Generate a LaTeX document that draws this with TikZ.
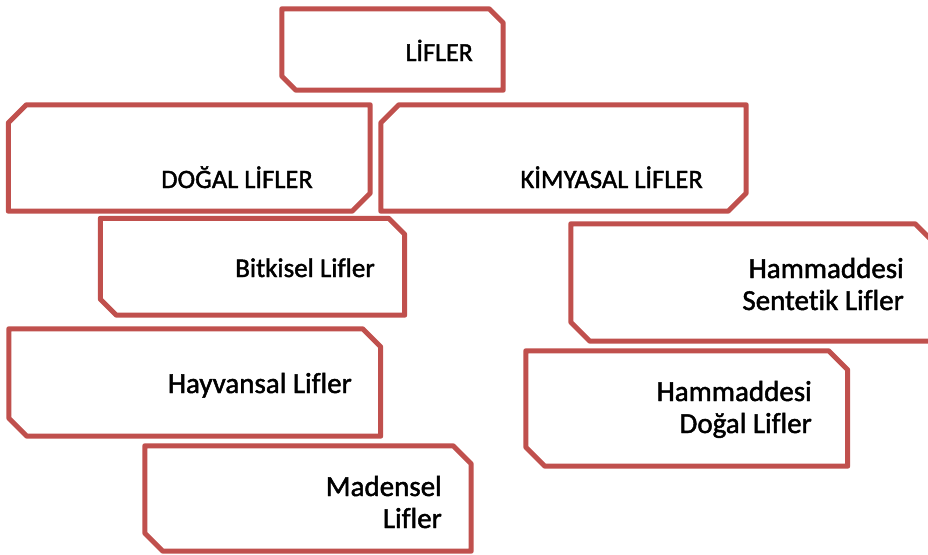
\documentclass[tikz,border=0pt]{standalone}
\usepackage{fontspec}
\setmainfont{Carlito}[Ligatures=NoCommon,FakeBold=1.6]
\definecolor{lifred}{HTML}{C0504D}
\tikzset{
  frame/.style = {draw=lifred, line width=5pt, fill=white, line join=round},
  lifbox/.style = {draw=none, inner sep=0pt},
  liftext/.style = {font=\fontsize{#1}{32}\selectfont, inner sep=0pt, align=right, anchor=base east},
  liftext/.default = 29
}
% cut corners: top right and bottom left
\newcommand{\snipTR}[2]{%
  \draw[frame] (#1.north west) -- ([xshift=-#2]#1.north east) -- ([yshift=-#2]#1.north east)
    -- (#1.south east) -- ([xshift=#2]#1.south west) -- ([yshift=#2]#1.south west) -- cycle;}
% cut corners: top left and bottom right
\newcommand{\snipTL}[2]{%
  \draw[frame] ([xshift=#2]#1.north west) -- (#1.north east) -- ([yshift=#2]#1.south east)
    -- ([xshift=-#2]#1.south east) -- (#1.south west) -- ([yshift=-#2]#1.north west) -- cycle;}

\begin{document}
\begin{tikzpicture}[x=1pt,y=-1pt]
  \useasboundingbox (0,0) rectangle (928,554);

  \node[lifbox, minimum width=221pt, minimum height=81pt] (lifler) at (392.5,49.5) {};
  \snipTR{lifler}{14pt}
  \node[liftext=26] (liflerT) at (473,61) {LİFLER};

  \node[lifbox, minimum width=361.5pt, minimum height=106pt] (dogal) at (189.25,158) {};
  \snipTL{dogal}{18pt}
  \node[liftext=26.5] (dogalT) at (313,188) {DOĞAL LİFLER};

  \node[lifbox, minimum width=365pt, minimum height=106pt] (kimya) at (563.5,158) {};
  \snipTL{kimya}{18pt}
  \node[liftext=26.5] (kimyaT) at (703,188) {KİMYASAL LİFLER};

  \node[lifbox, minimum width=304pt, minimum height=96.5pt] (bitki) at (252.5,266.75) {};
  \snipTR{bitki}{16pt}
  \node[liftext=27] (bitkiT) at (375,277) {Bitkisel Lifler};

  \node[lifbox, minimum width=363pt, minimum height=117pt] (sentetik) at (752.5,282.5) {};
  \snipTR{sentetik}{19pt}
  \node[liftext] (sentetikT) at (904,310) {Hammaddesi\\Sentetik Lifler};

  \node[lifbox, minimum width=371.5pt, minimum height=107pt] (hayvan) at (194.75,382.5) {};
  \snipTR{hayvan}{18pt}
  \node[liftext] (hayvanT) at (352,393) {Hayvansal Lifler};

  \node[lifbox, minimum width=321.5pt, minimum height=115pt] (hamdogal) at (686.75,408.5) {};
  \snipTR{hamdogal}{19pt}
  \node[liftext] (hamdogalT) at (812,433) {Hammaddesi\\Doğal Lifler};

  \node[lifbox, minimum width=326pt, minimum height=105pt] (maden) at (308,498.5) {};
  \snipTR{maden}{18pt}
  \node[liftext] (madenT) at (442,528) {Madensel\\Lifler};
\end{tikzpicture}
\end{document}
